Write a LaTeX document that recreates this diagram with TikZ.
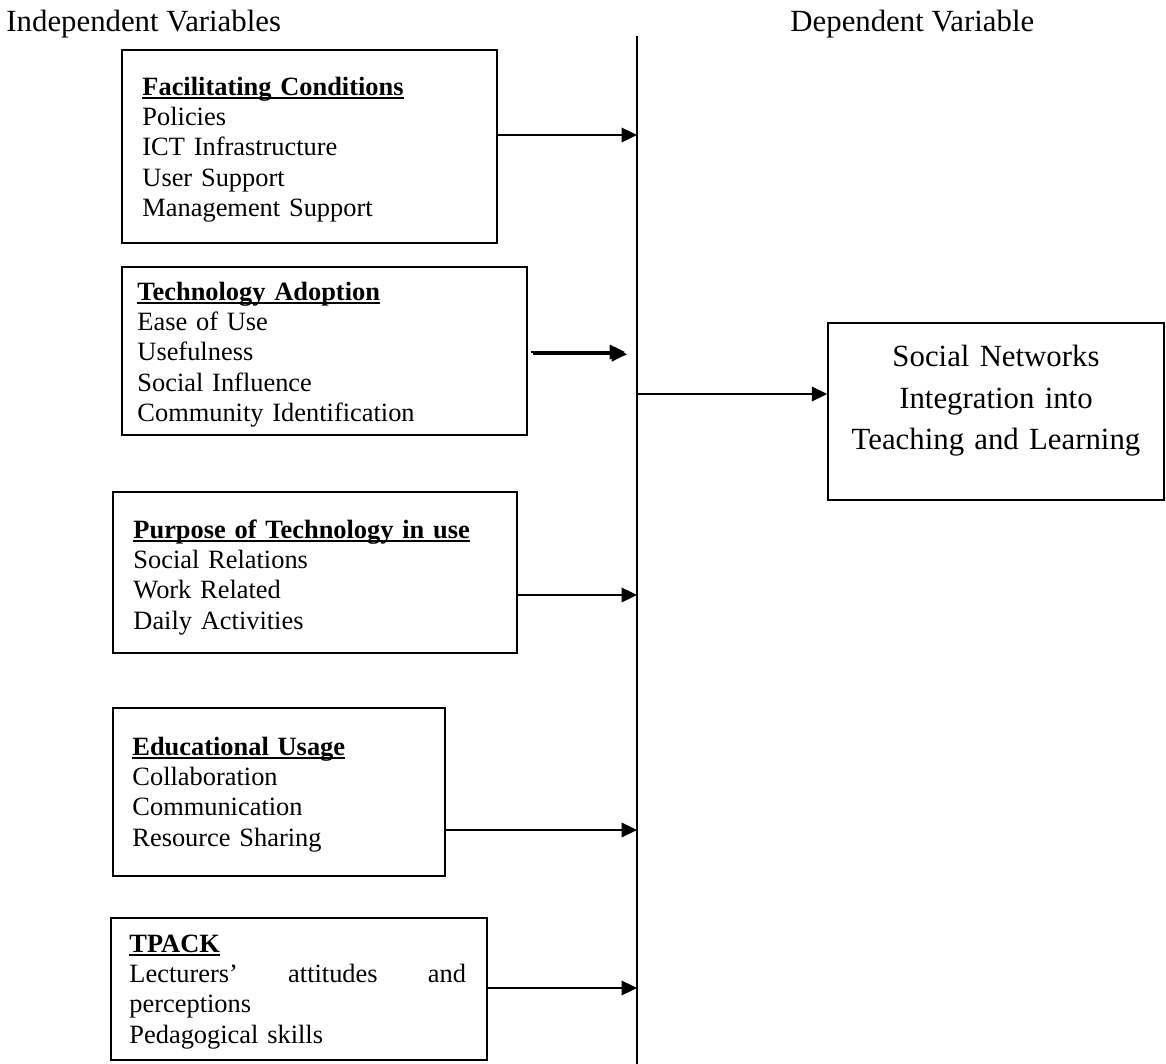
\documentclass[tikz,border=0pt]{standalone}
\usepackage{fontspec}
\setmainfont{Liberation Serif}
\usepackage{xcolor}
\usepackage{tikz}
\usetikzlibrary{positioning,arrows.meta,fit}
\definecolor{shade}{HTML}{BDBDBD}
\newsavebox{\headbox}
\newcommand{\varhead}[1]{\sbox{\headbox}{\bfseries #1}\rlap{\rule[-1.6pt]{\wd\headbox}{0.7pt}}\usebox{\headbox}}

\begin{document}
\begin{tikzpicture}[
  x=0.4545pt,y=-0.4545pt,
  font=\fontsize{12}{13.8}\selectfont,
  frame/.style={draw,line width=0.7pt,inner sep=0pt},
  items/.style={anchor=base west,inner sep=0pt,text width=175pt,align=left},
  bigtext/.style={font=\fontsize{14}{18.8}\selectfont},
  arr/.style={-{Triangle[length=7pt,width=6.6pt]},line width=0.9pt}
]
\useasboundingbox (0,0) rectangle (1166,1064);
\node[bigtext,anchor=base west,inner sep=0pt] (indep) at (6,31) {Independent Variables};
\node[bigtext,anchor=base west,inner sep=0pt] (dep) at (790,31) {Dependent Variable};
\coordinate (linetop) at (637,36);
\coordinate (linebot) at (637,1064);
\draw[line width=0.75pt] (linetop) -- (linebot);

\node[frame,fit={(122,50) (497,243)}] (fc) {};
\node[items] (fctext) at (142,95) {\varhead{Facilitating Conditions}\\Policies\\ICT Infrastructure\\User Support\\Management Support};

\node[frame,fit={(122,267) (527,435)}] (ta) {};
\begin{scope}
\clip (122,267) rectangle (527,426);
\node[items] (tatext) at (137,300) {\varhead{Technology Adoption}\\Ease of Use\\Usefulness\\Social Influence\\Community Identification};
\end{scope}

\node[frame,fit={(113,492) (517,653)}] (pt) {};
\node[items] (pttext) at (133,538) {\varhead{Purpose of Technology in use}\\Social Relations\\Work Related\\Daily Activities};

\node[frame,fit={(113,708) (445,876)}] (eu) {};
\node[items] (eutext) at (132,755) {\varhead{Educational Usage}\\Collaboration\\Communication\\Resource Sharing};

\node[frame,fit={(111,918) (487,1060)}] (tp) {};
\node[items,text width=153pt] (tptext) at (129,952) {\varhead{TPACK}\\\makebox[153pt][s]{Lecturers'\hfill attitudes\hfill and}\\perceptions\\Pedagogical skills};

\node[frame,fit={(828,323) (1164,500)},bigtext,align=center] (sn) {Social Networks\\Integration into\\Teaching and Learning};

\coordinate (fcin) at (637,135);
\coordinate (tatip) at (625,352);
\coordinate (hub) at (637,394);
\coordinate (ptin) at (637,595);
\coordinate (euin) at (637,830);
\coordinate (tpin) at (637,988);

\draw[arr] (fc.east |- fcin) -- (fcin);
\draw[arr,shade,shorten <=1.4pt,transform canvas={xshift=0.9pt,yshift=-1pt}] (ta.east |- tatip) -- (tatip);
\draw[arr,shorten <=1.4pt] (ta.east |- tatip) -- (tatip);
\draw[arr] (pt.east |- ptin) -- (ptin);
\draw[arr] (eu.east |- euin) -- (euin);
\draw[arr] (tp.east |- tpin) -- (tpin);
\draw[arr] (hub) -- (sn.west |- hub);
\end{tikzpicture}
\end{document}
